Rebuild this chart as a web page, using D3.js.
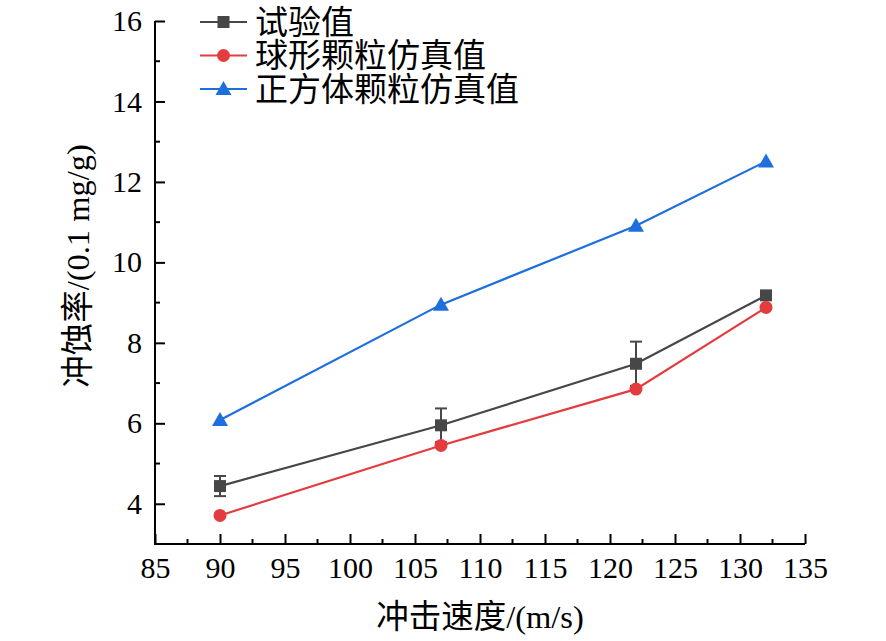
<!DOCTYPE html>
<html>
<head>
<meta charset="utf-8">
<script src="https://cdn.jsdelivr.net/npm/d3@7"></script>
<style>
  body { margin: 0; background: #fff; }
</style>
</head>
<body>
<div id="plot"></div>
<script>
// data
const speeds = [90, 107, 122, 132];
const testValues = [4.44, 5.95, 7.48, 9.18];
const testErrors = [0.25, 0.42, 0.55, 0.05];
const sphereValues = [3.71, 5.45, 6.85, 8.88];
const cubeValues = [6.08, 8.95, 10.91, 12.51];
const xTicks = [85, 90, 95, 100, 105, 110, 115, 120, 125, 130, 135];
const yTicks = [4, 6, 8, 10, 12, 14, 16];
const seriesNames = ['试验值', '球形颗粒仿真值', '正方体颗粒仿真值'];

const width = 886;
const height = 641;
const margin = {top: 21, right: 81, bottom: 97, left: 155};
const fontFamily = '"Liberation Serif", "Noto Sans CJK SC", serif';

const svg = d3.select('#plot')
    .append('svg')
    .attr('width', width)
    .attr('height', height)
    .style('font-family', fontFamily);

const x = d3.scaleLinear().domain([85, 135]).range([margin.left, width - margin.right]);
const y = d3.scaleLinear().domain([3, 16]).range([height - margin.bottom, margin.top]);

const axisColor = '#000';

// x axis, ticks point inward
const xAxis = svg.append('g')
    .attr('transform', `translate(0,${y(3)})`)
    .call(d3.axisBottom(x).tickValues(xTicks).tickSize(-10).tickPadding(13).tickFormat(d3.format('d')));
xAxis.attr('font-family', null).attr('font-size', null);
xAxis.select('.domain').attr('stroke-width', 2).attr('d', `M${x(85) - 1},0H${x(135)}`);
xAxis.selectAll('.tick line').attr('stroke-width', 2);
xAxis.selectAll('.tick text')
    .style('font-family', fontFamily)
    .style('font-size', '30px')
    .attr('fill', '#000')
    .attr('dy', '0.71em');

// minor x ticks
svg.append('g').selectAll('line')
    .data(d3.range(87.5, 135, 5))
    .join('line')
    .attr('x1', d => x(d)).attr('x2', d => x(d))
    .attr('y1', y(3)).attr('y2', y(3) - 5)
    .attr('stroke', axisColor).attr('stroke-width', 2);

// y axis
const yAxis = svg.append('g')
    .attr('transform', `translate(${x(85)},0)`)
    .call(d3.axisLeft(y).tickValues(yTicks).tickSize(-10).tickPadding(13));
yAxis.attr('font-family', null).attr('font-size', null);
yAxis.select('.domain').attr('stroke-width', 2).attr('d', `M0,${y(3) + 1}V${y(16)}`);
yAxis.selectAll('.tick line').attr('stroke-width', 2);
yAxis.selectAll('.tick text')
    .style('font-family', fontFamily)
    .style('font-size', '30px')
    .attr('fill', '#000');

svg.append('g').selectAll('line')
    .data(d3.range(5, 16, 2))
    .join('line')
    .attr('x1', x(85)).attr('x2', x(85) + 5)
    .attr('y1', d => y(d)).attr('y2', d => y(d))
    .attr('stroke', axisColor).attr('stroke-width', 2);

// axis titles
svg.append('text')
    .attr('x', 480)
    .attr('y', 628)
    .attr('text-anchor', 'middle')
    .style('font-size', '32.5px')
    .text('冲击速度/(m/s)');

svg.append('text')
    .attr('transform', 'translate(89,266) rotate(-90)')
    .attr('text-anchor', 'middle')
    .style('font-size', '32.5px')
    .text('冲蚀率/(0.1 mg/g)');

const colors = ['#474747', '#e43c3e', '#1c6fdc'];
const line = d3.line().x(d => x(d[0])).y(d => y(d[1]));

function drawMarker(g, type, color, cx, cy) {
    if (type === 'square') {
        g.append('rect')
            .attr('x', cx - 6).attr('y', cy - 6)
            .attr('width', 12).attr('height', 12)
            .attr('fill', color);
    } else if (type === 'circle') {
        g.append('circle')
            .attr('cx', cx).attr('cy', cy).attr('r', 6.5)
            .attr('fill', color);
    } else {
        g.append('path')
            .attr('d', `M${cx},${cy - 8}L${cx + 8},${cy + 6}L${cx - 8},${cy + 6}Z`)
            .attr('fill', color);
    }
}

const series = [
    {values: testValues, marker: 'square', color: colors[0]},
    {values: sphereValues, marker: 'circle', color: colors[1]},
    {values: cubeValues, marker: 'triangle', color: colors[2]}
];

// error bars for test values
const errG = svg.append('g').attr('stroke', colors[0]).attr('stroke-width', 2);
speeds.forEach((s, i) => {
    const x0 = x(s);
    const top = y(testValues[i] + testErrors[i]);
    const bot = y(testValues[i] - testErrors[i]);
    errG.append('line').attr('x1', x0).attr('x2', x0).attr('y1', top).attr('y2', bot);
    errG.append('line').attr('x1', x0 - 6).attr('x2', x0 + 6).attr('y1', top).attr('y2', top);
    errG.append('line').attr('x1', x0 - 6).attr('x2', x0 + 6).attr('y1', bot).attr('y2', bot);
});

// draw order: cube, test, sphere (sphere on top like reference)
[series[2], series[0], series[1]].forEach(s => {
    const pts = speeds.map((v, i) => [v, s.values[i]]);
    const g = svg.append('g');
    g.append('path')
        .attr('d', line(pts))
        .attr('fill', 'none')
        .attr('stroke', s.color)
        .attr('stroke-width', 2.2);
    pts.forEach(p => drawMarker(g, s.marker, s.color, x(p[0]), y(p[1])));
});

// legend
const legend = svg.append('g');
seriesNames.forEach((name, i) => {
    const ly = 22 + i * 33.5;
    const g = legend.append('g');
    g.append('line')
        .attr('x1', 200).attr('x2', 247)
        .attr('y1', ly).attr('y2', ly)
        .attr('stroke', series[i].color).attr('stroke-width', 2.2);
    drawMarker(g, series[i].marker, series[i].color, 223.5, ly);
    g.append('text')
        .attr('x', 255)
        .attr('y', ly)
        .attr('dy', '0.36em')
        .style('font-size', '33px')
        .text(name);
});
</script>
</body>
</html>
